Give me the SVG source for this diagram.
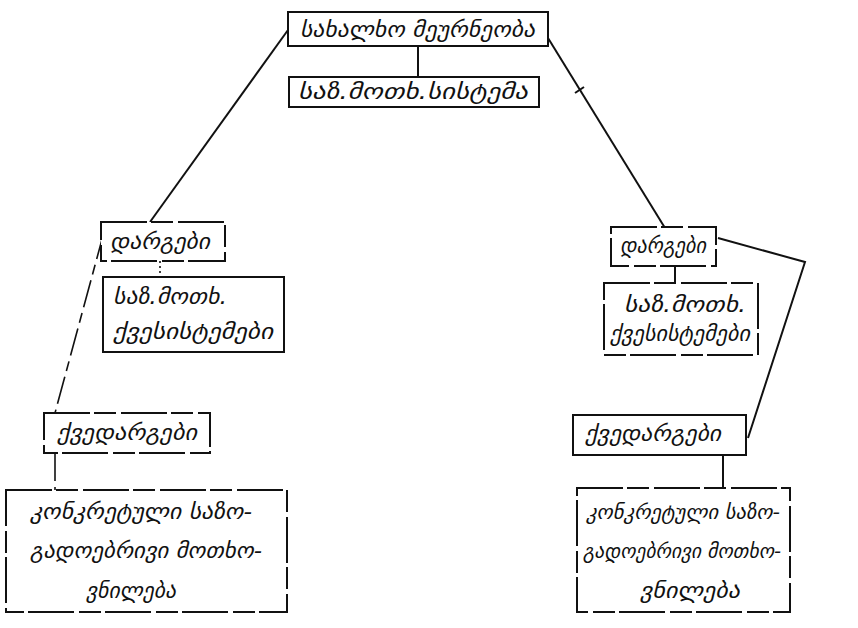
<svg xmlns="http://www.w3.org/2000/svg" width="858" height="628" viewBox="0 0 858 628">
<style>
.box{fill:#fff;stroke:#111;stroke-width:2}
.brk{fill:#fff;stroke:#111;stroke-width:2;stroke-dasharray:46 4 22 5}
.t{font-family:"DejaVu Sans",sans-serif;font-style:italic;font-size:21px;fill:#111}
.s{font-size:19.5px}
.c{stroke:#111;stroke-width:2;fill:none}
.dash{stroke:#111;stroke-width:1.6;fill:none;stroke-dasharray:28 6 10 6}
.dot{stroke:#111;stroke-width:1.6;fill:none;stroke-dasharray:2 3}
</style>
<rect width="858" height="628" fill="#fff"/>
<g id="connectors">
<line class="c" x1="418" y1="46" x2="418" y2="77"/>
<line class="c" x1="288" y1="30" x2="150" y2="222"/>
<line class="c" x1="548" y1="38" x2="665" y2="228"/>
<line class="c" x1="575" y1="93" x2="584" y2="87"/>
<line class="dot" x1="160" y1="261" x2="160" y2="277"/>
<line class="dash" x1="104" y1="232" x2="55" y2="413"/>
<line class="dash" x1="55" y1="453" x2="55" y2="490"/>
<line class="c" x1="675" y1="266" x2="675" y2="283"/>
<polyline class="c" points="718,238 805,262 748,438"/>
<line class="c" x1="723" y1="455" x2="723" y2="488"/>
</g>
<g id="n1"><rect class="box" x="288" y="12" width="260" height="34"/><text class="t" x="300" y="37" textLength="235" lengthAdjust="spacingAndGlyphs">სახალხო მეურნეობა</text></g>
<g id="n2"><rect class="box" x="289" y="77" width="250" height="30"/><text class="t" x="298" y="99" textLength="230" lengthAdjust="spacingAndGlyphs">საზ.მოთხ.სისტემა</text></g>
<g id="n3"><rect class="brk" x="101" y="222" width="124" height="39"/><text class="t" x="110" y="249" textLength="100" lengthAdjust="spacingAndGlyphs">დარგები</text></g>
<g id="n4"><rect class="box" x="103" y="277" width="181" height="75"/><text class="t" x="113" y="304" textLength="114" lengthAdjust="spacingAndGlyphs">საზ.მოთხ.</text><text class="t" x="113" y="339" textLength="160" lengthAdjust="spacingAndGlyphs">ქვესისტემები</text></g>
<g id="n5"><rect class="brk" x="44" y="413" width="166" height="40"/><text class="t" x="57" y="440" textLength="140" lengthAdjust="spacingAndGlyphs">ქვედარგები</text></g>
<g id="n6"><rect class="brk" x="6" y="490" width="281" height="122"/><text class="t" x="30" y="519" textLength="222" lengthAdjust="spacingAndGlyphs">კონკრეტული საზო-</text><text class="t" x="30" y="558" textLength="232" lengthAdjust="spacingAndGlyphs">გადოებრივი მოთხო-</text><text class="t" x="86" y="598" textLength="90" lengthAdjust="spacingAndGlyphs">ვნილება</text></g>
<g id="n7"><rect class="brk" x="611" y="227" width="105" height="39"/><text class="t" x="620" y="253" textLength="86" lengthAdjust="spacingAndGlyphs">დარგები</text></g>
<g id="n8"><rect class="brk" x="604" y="283" width="154" height="72"/><text class="t" x="624" y="312" textLength="122" lengthAdjust="spacingAndGlyphs">საზ.მოთხ.</text><text class="t" x="610" y="341" textLength="140" lengthAdjust="spacingAndGlyphs">ქვესისტემები</text></g>
<g id="n9"><rect class="box" x="573" y="415" width="173" height="40"/><text class="t" x="585" y="441" textLength="136" lengthAdjust="spacingAndGlyphs">ქვედარგები</text></g>
<g id="n10"><rect class="brk" x="577" y="488" width="213" height="124"/><text class="t s" x="586" y="519" textLength="194" lengthAdjust="spacingAndGlyphs">კონკრეტული საზო-</text><text class="t s" x="583" y="558" textLength="198" lengthAdjust="spacingAndGlyphs">გადოებრივი მოთხო-</text><text class="t" x="640" y="598" textLength="100" lengthAdjust="spacingAndGlyphs">ვნილება</text></g>
</svg>
